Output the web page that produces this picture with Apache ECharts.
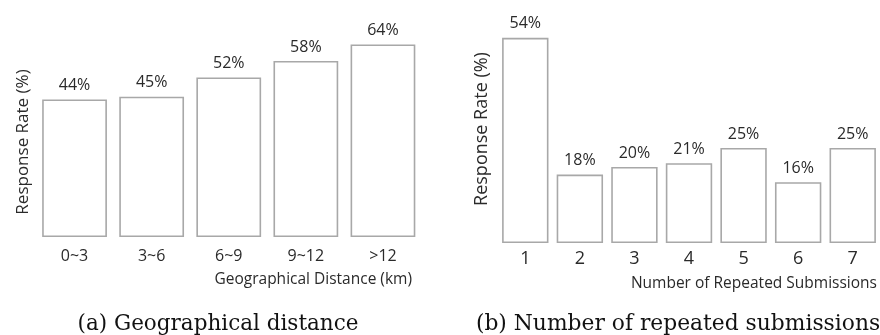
<!DOCTYPE html>
<html>
<head>
<meta charset="utf-8">
<script src="https://cdn.jsdelivr.net/npm/echarts@6/dist/echarts.min.js"></script>
<style>
  html, body { margin: 0; padding: 0; background: #fff; }
  #main { width: 880px; height: 335px; }
</style>
</head>
<body>
<div id="main"></div>
<script>
// (a) response rate by geographical distance
const distCats = ['0~3', '3~6', '6~9', '9~12', '>12'];
const distRate = [44, 45, 52, 58, 64];

// (b) response rate by number of repeated submissions
const subCats = ['1', '2', '3', '4', '5', '6', '7'];
const subRate = [54, 18, 20, 21, 25, 16, 25];

const captions = ['(a) Geographical distance', '(b) Number of repeated submissions'];

const chart = echarts.init(document.getElementById('main'), null, { renderer: 'canvas' });

const sans = '"Open Sans", "Noto Sans", sans-serif';
const txt = '#2a2a2a';

const barStyle = {
    color: '#fff',
    borderColor: '#a8a8a8',
    borderWidth: 1.6
};

const barLabel = {
    show: true,
    position: 'top',
    distance: 6,
    formatter: '{c}%',
    fontFamily: sans,
    fontSize: 16,
    color: txt
};

function xAx(idx, cats, name, gap, padTop, size, nameSize, margin) {
    return {
        type: 'category',
        gridIndex: idx,
        data: cats,
        axisLine: { show: false, onZero: false },
        axisTick: { show: false },
        axisLabel: { fontFamily: sans, fontSize: size, color: txt, margin: margin },
        name: name,
        nameLocation: 'end',
        nameGap: gap,
        nameMoveOverlap: false,
        nameTextStyle: {
            fontFamily: sans, fontSize: nameSize, color: txt,
            align: 'right', verticalAlign: 'top', padding: [padTop, 0, 0, 0]
        }
    };
}

function yAx(idx, min, max, gap, pad, size) {
    return {
        type: 'value',
        gridIndex: idx,
        min: min,
        max: max,
        startValue: min,
        axisLine: { show: false },
        axisTick: { show: false },
        axisLabel: { show: false },
        splitLine: { show: false },
        name: 'Response Rate (%)',
        nameLocation: 'middle',
        nameRotate: 90,
        nameGap: gap,
        nameMoveOverlap: false,
        nameTextStyle: { fontFamily: sans, fontSize: size, color: txt, padding: pad }
    };
}

const capStyle = { fontFamily: '"DejaVu Serif", serif', fontWeight: 'normal', fontSize: 21.5, color: '#111' };

const option = {
    backgroundColor: '#fff',
    animation: false,
    title: [
        { text: captions[0], left: 213, top: 308, textAlign: 'center', textStyle: capStyle },
        { text: captions[1], left: 673, top: 308, textAlign: 'center', textStyle: Object.assign({}, capStyle, { fontSize: 21.8 }) }
    ],
    grid: [
        { left: 36, top: 17, width: 385.5, height: 220 },
        { left: 498, top: 15, width: 388.5, height: 228 }
    ],
    xAxis: [
        xAx(0, distCats, 'Geographical Distance (km)', -9.5, 35, 16, 15.5, 11),
        xAx(1, subCats, 'Number of Repeated Submissions', -3, 33, 18, 15.5, 7)
    ],
    yAxis: [
        yAx(0, -6, 74, 4.5, [0, 30, 0, 0], 17),
        yAx(1, 0, 60, 7, [0, 0, 0, 0], 18)
    ],
    series: [
        {
            type: 'bar', xAxisIndex: 0, yAxisIndex: 0,
            data: distRate, barCategoryGap: '16%',
            itemStyle: barStyle, label: barLabel
        },
        {
            type: 'bar', xAxisIndex: 1, yAxisIndex: 1,
            data: subRate, barCategoryGap: '15%',
            itemStyle: barStyle, label: barLabel
        }
    ]
};

chart.setOption(option);
</script>
</body>
</html>
